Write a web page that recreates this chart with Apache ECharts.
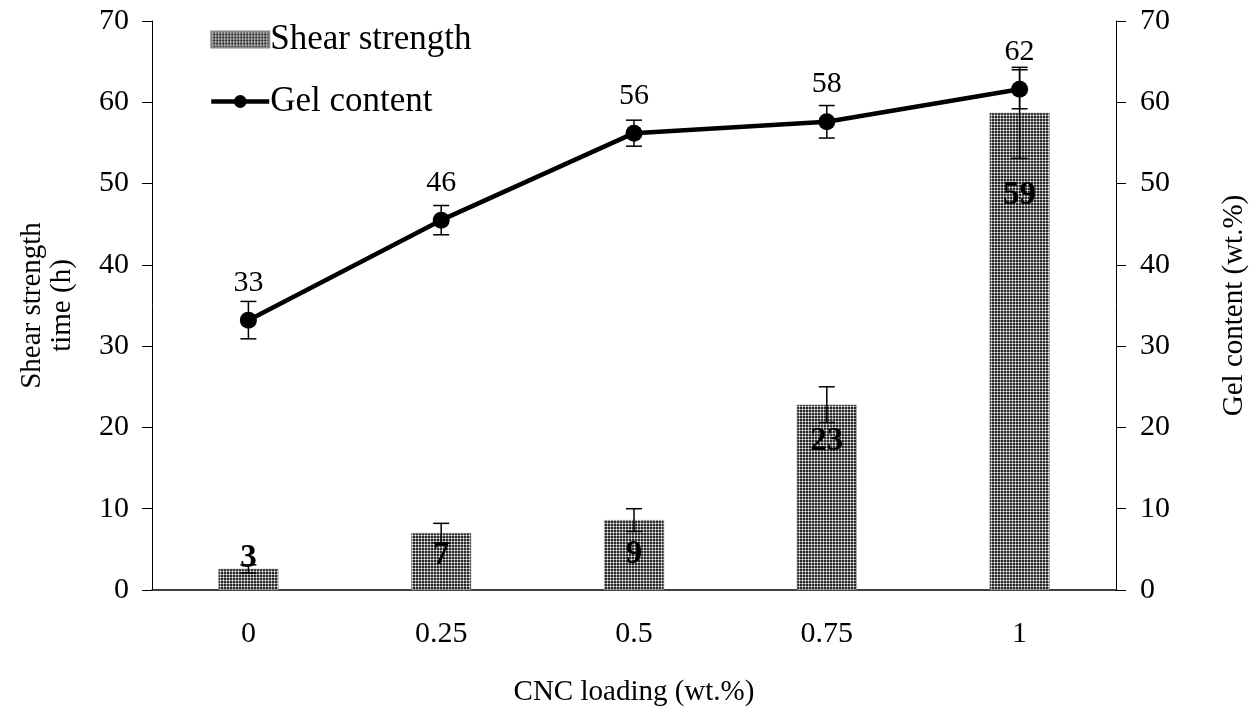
<!DOCTYPE html>
<html>
<head>
<meta charset="utf-8">
<script src="https://cdn.jsdelivr.net/npm/echarts@6/dist/echarts.min.js"></script>
<style>
  html, body { margin: 0; padding: 0; background: #fff; }
  #chart { width: 1249px; height: 714px; }
</style>
</head>
<body>
<div id="chart"></div>
<script>
// CNC loading levels (wt.%)
const categories = ['0', '0.25', '0.5', '0.75', '1'];
// Shear strength time (h) with standard deviation
const shearValues = [2.6, 7.0, 8.6, 22.8, 58.7];
const shearErrors = [0.5, 1.2, 1.4, 2.2, 5.6];
// Gel content (wt.%) with standard deviation
const gelValues = [33.2, 45.5, 56.2, 57.6, 61.6];
const gelErrors = [2.3, 1.8, 1.6, 2.0, 2.4];
// Axis ticks
const axisMin = 0, axisMax = 70, axisStep = 10;

// Vertical nudges for the bold value labels inside the bars (px)
const barLabelNudge = [-32, 1, 13, 15, 61];

const FONT = '"Liberation Serif", "DejaVu Serif", serif';

// Dithered grey fill used for the bars
function makeDotPattern() {
  const c = document.createElement('canvas');
  c.width = 3; c.height = 3;
  const ctx = c.getContext('2d');
  const px = [
    ['#2a2a2a', '#9a9a9a', '#2a2a2a'],
    ['#9a9a9a', '#ffffff', '#9a9a9a'],
    ['#2a2a2a', '#9a9a9a', '#2a2a2a']
  ];
  for (let y = 0; y < 3; y++) {
    for (let x = 0; x < 3; x++) {
      ctx.fillStyle = px[y][x];
      ctx.fillRect(x, y, 1, 1);
    }
  }
  return { image: c, repeat: 'repeat' };
}
const dotFill = makeDotPattern();

// Error bar drawer: data items are [categoryIndex, low, high]
function errorBarRenderer(capHalf) {
  return function (params, api) {
    const x = api.value(0);
    const lo = api.coord([x, api.value(1)]);
    const hi = api.coord([x, api.value(2)]);
    const style = { stroke: '#000', lineWidth: 1.5, fill: null };
    return {
      type: 'group',
      children: [
        { type: 'line', shape: { x1: hi[0], y1: hi[1], x2: lo[0], y2: lo[1] }, style },
        { type: 'line', shape: { x1: hi[0] - capHalf, y1: hi[1], x2: hi[0] + capHalf, y2: hi[1] }, style },
        { type: 'line', shape: { x1: lo[0] - capHalf, y1: lo[1], x2: lo[0] + capHalf, y2: lo[1] }, style }
      ]
    };
  };
}

const shearErrData = shearValues.map((v, i) => [i, v - shearErrors[i], v + shearErrors[i]]);
const gelErrData = gelValues.map((v, i) => [i, v - gelErrors[i], v + gelErrors[i]]);

const tickText = { fontFamily: FONT, fontSize: 30, color: '#000' };
const titleText = { fontFamily: FONT, fontSize: 29, color: '#000' };

function valueAxis(position, name, nameGap, labelMargin) {
  return {
    type: 'value',
    position: position,
    min: axisMin, max: axisMax, interval: axisStep,
    name: name,
    nameLocation: 'middle',
    nameRotate: 90,
    nameGap: nameGap,
    nameTextStyle: Object.assign({ lineHeight: 30 }, titleText),
    axisLine: { show: true, lineStyle: { color: '#000', width: 1 } },
    axisTick: { show: true, inside: false, length: 10, lineStyle: { color: '#000' } },
    axisLabel: Object.assign({ margin: labelMargin }, tickText),
    splitLine: { show: false }
  };
}

const chart = echarts.init(document.getElementById('chart'), null, { renderer: 'canvas' });

chart.setOption({
  animation: false,
  backgroundColor: '#fff',
  grid: {
    left: 152, right: 133, top: 21, bottom: 124,
    containLabel: false,
    outerBoundsMode: 'none'
  },
  legend: {
    orient: 'vertical',
    left: 204, top: 17,
    itemWidth: 58, itemHeight: 16,
    itemGap: 27,
    textStyle: { fontFamily: FONT, fontSize: 35, color: '#000', padding: [0, 0, 0, -4] },
    data: [
      { name: 'Shear strength', icon: 'rect' },
      { name: 'Gel content', lineStyle: { width: 4.5, color: '#000' } }
    ]
  },
  xAxis: {
    type: 'category',
    data: categories,
    name: 'CNC loading (wt.%)',
    nameLocation: 'middle',
    nameGap: 88,
    nameTextStyle: titleText,
    axisLine: { show: true, lineStyle: { color: '#000', width: 1.5 } },
    axisTick: { show: false },
    axisLabel: Object.assign({ margin: 29 }, tickText)
  },
  yAxis: [
    valueAxis('left', 'Shear strength\ntime (h)', 75, 23),
    valueAxis('right', 'Gel content (wt.%)', 103, 24)
  ],
  series: [
    {
      name: 'Shear strength',
      type: 'bar',
      yAxisIndex: 0,
      barWidth: 60,
      data: shearValues.map((v, i) => ({
        value: v,
        label: { offset: [0, barLabelNudge[i]] }
      })),
      itemStyle: { color: dotFill, borderColor: '#888', borderWidth: 0.5 },
      label: {
        show: true,
        position: 'insideTop',
        distance: 5,
        formatter: p => String(Math.round(p.value)),
        fontFamily: FONT, fontSize: 33, fontWeight: 'bold', color: '#000'
      },
      z: 2
    },
    {
      name: 'Shear error',
      type: 'custom',
      yAxisIndex: 0,
      renderItem: errorBarRenderer(8),
      data: shearErrData,
      z: 3,
      silent: true
    },
    {
      name: 'Gel content',
      type: 'line',
      yAxisIndex: 1,
      data: gelValues,
      symbol: 'circle',
      symbolSize: 17,
      lineStyle: { color: '#000', width: 4.5 },
      itemStyle: { color: '#000' },
      label: {
        show: true,
        position: 'top',
        distance: 14,
        formatter: p => String(Math.round(p.value)),
        fontFamily: FONT, fontSize: 30, color: '#000'
      },
      z: 5
    },
    {
      name: 'Gel error',
      type: 'custom',
      yAxisIndex: 1,
      renderItem: errorBarRenderer(8),
      data: gelErrData,
      z: 4,
      silent: true
    }
  ]
});
</script>
</body>
</html>
